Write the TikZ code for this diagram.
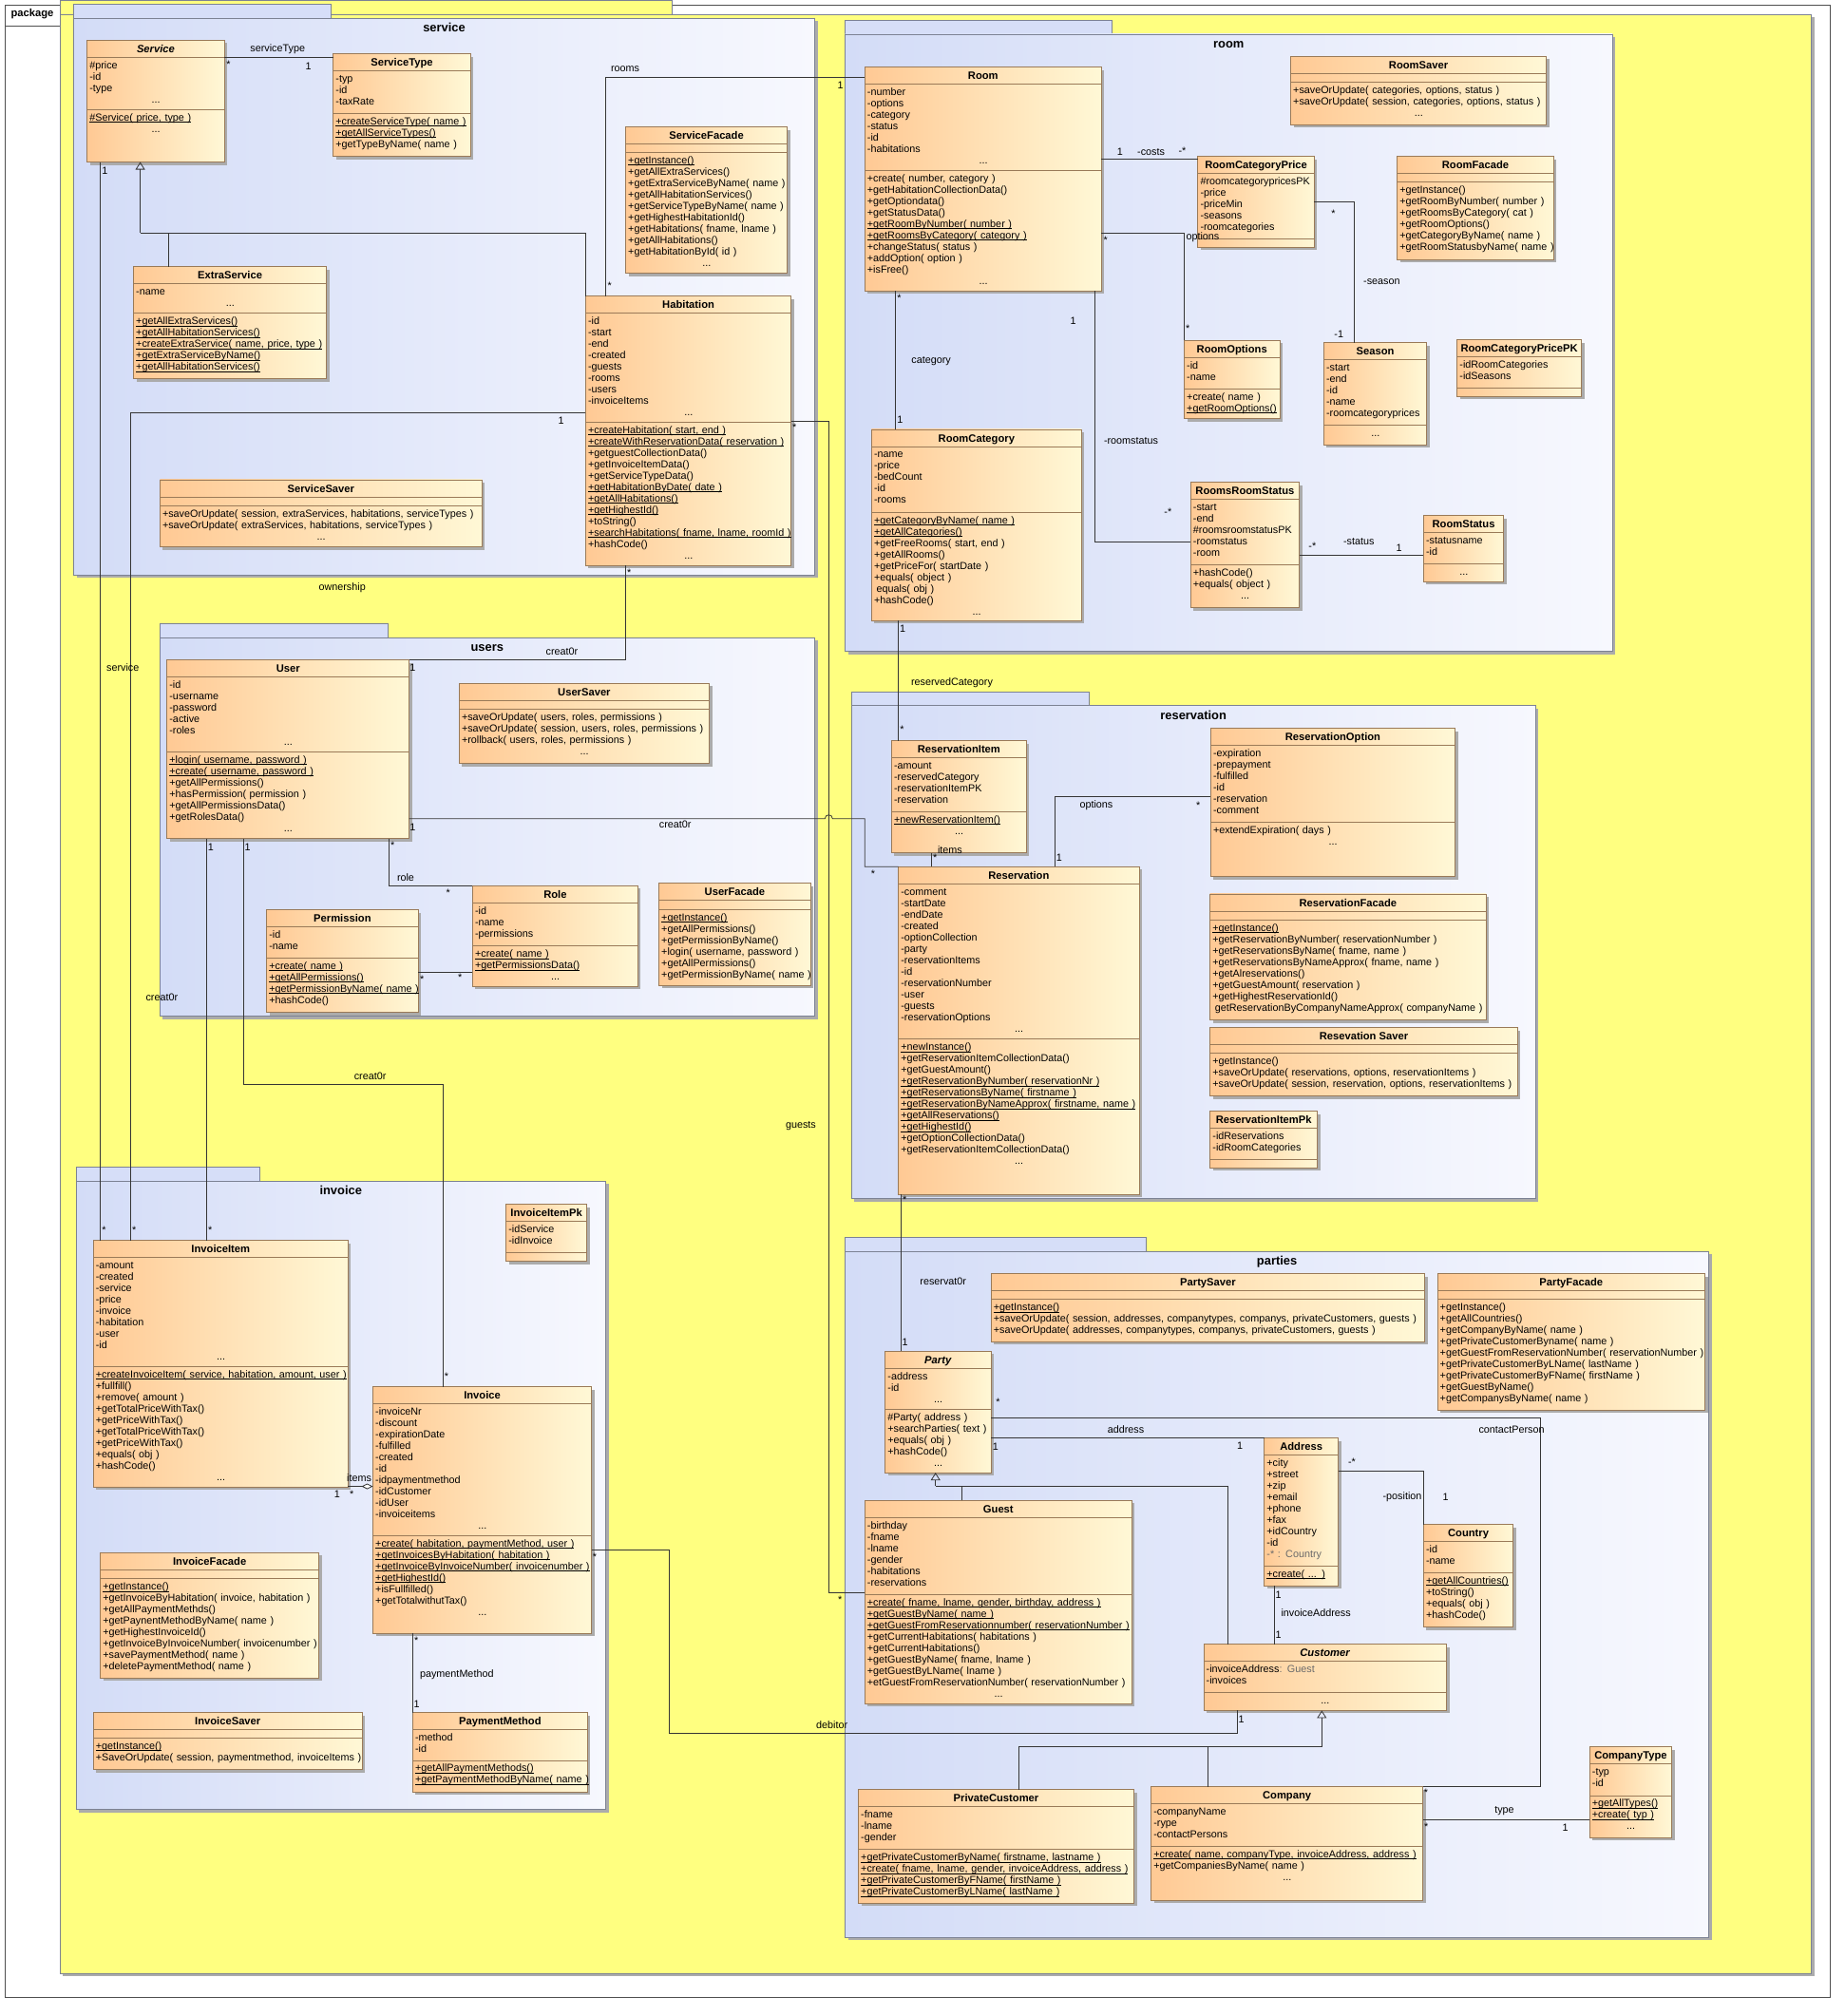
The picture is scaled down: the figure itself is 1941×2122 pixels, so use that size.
\documentclass[tikz,border=0pt]{standalone}
\usepackage{fontspec}
\setmainfont{Liberation Sans}
\usetikzlibrary{arrows.meta}

\definecolor{yel}{HTML}{FFFF80}
\definecolor{pkgL}{HTML}{D3DCF7}
\definecolor{pkgR}{HTML}{F7F8FE}
\definecolor{pkgTab}{HTML}{D6DEF8}
\definecolor{pkgLine}{HTML}{7C8294}
\definecolor{frameLine}{HTML}{505050}
\definecolor{clsL}{HTML}{FFC994}
\definecolor{clsR}{HTML}{FFF8D6}
\definecolor{clsLine}{HTML}{9A7A58}
\definecolor{shd}{HTML}{ABABAB}
\definecolor{wire}{HTML}{353535}
\definecolor{dim}{HTML}{6A6A6A}

\newcommand\cfont{\fontsize{10.8}{12}\selectfont}
\newcommand\hfont{\bfseries\fontsize{11.2}{12}\selectfont}
\newcommand\pfont{\bfseries\fontsize{12.9}{14}\selectfont}

% underlined (static) member
\newcommand\uln[1]{\leavevmode\setbox0=\hbox{#1}\rlap{\rule[-1.6pt]{\wd0}{0.6pt}}\box0}
% centred ellipsis row of a compartment
\newcommand\ellrow{\leavevmode\makebox[\clsw pt]{...}}

\tikzset{
  clsbox/.style={draw=clsLine, line width=0.7pt, left color=clsL, right color=clsR, inner sep=0, outer sep=0},
  pkgbox/.style={draw=pkgLine, line width=0.8pt, left color=pkgL, right color=pkgR, inner sep=0, outer sep=0},
  hdrtxt/.style={inner sep=0, font=\hfont, anchor=base},
  cmptxt/.style={inner sep=0, anchor=north west, align=left, text width=700pt, font=\cfont},
  lbl/.style={inner sep=0, font=\cfont},
  wireln/.style={draw=wire, line width=0.8pt},
  gen/.style={wireln, -{Triangle[open, width=10pt, length=8pt]}},
  agg/.style={wireln, -{Diamond[open, fill=white, width=6pt, length=12pt]}},
  pkgtitle/.style={inner sep=0, font=\pfont, anchor=base},
}

% class: id, x, y, width, height, attribute-compartment height, title, attributes, operations
\newcommand\umlclass[9]{%
  \pgfmathsetmacro\clsw{#4-5}%
  \pgfmathsetmacro\clscx{#2+#4/2}%
  \pgfmathsetmacro\clsya{#3+18}%
  \pgfmathsetmacro\clsyo{#3+18+#6}%
  \fill[shd] (#2+3,#3+3) rectangle ++(#4,#5);
  \node[clsbox, minimum width=#4pt, minimum height=#5pt, anchor=north west] (#1) at (#2,#3) {};
  \draw[clsLine, line width=0.7pt] (#2,\clsya) -- ++(#4,0) (#2,\clsyo) -- ++(#4,0);
  \node[hdrtxt] (#1-t) at (\clscx,#3+13.1) {#7};
  \node[cmptxt] (#1-a) at (#2+2.5,\clsya+3.3) {\strut #8};
  \node[cmptxt] (#1-o) at (#2+2.5,\clsyo+3.3) {\strut #9};
}

% package: id, x1, tab top, tab right, body top, x2, y2, title
\newcommand\umlpkg[8]{%
  \pgfmathsetmacro\pkw{#6-#2}%
  \pgfmathsetmacro\pkh{#7-#5}%
  \pgfmathsetmacro\pktw{#4-#2}%
  \pgfmathsetmacro\pkth{#5-#3}%
  \pgfmathsetmacro\pkcx{(#2+#6)/2}%
  \fill[shd] (#2+3,#5+3) rectangle (#6+3,#7+3);
  \node[draw=pkgLine, fill=pkgTab, line width=0.8pt, inner sep=0, outer sep=0, anchor=north west,
        minimum width=\pktw pt, minimum height=\pkth pt] (#1-tab) at (#2,#3) {};
  \node[pkgbox, minimum width=\pkw pt, minimum height=\pkh pt, anchor=north west] (#1) at (#2,#5) {};
  \node[pkgtitle] (#1-t) at (\pkcx,#5+14.5) {#8};
}

\begin{document}
\begin{tikzpicture}[x=1pt, y=-1pt]
\useasboundingbox (0,0) rectangle (1941,2122);
\fill[white] (0,0) rectangle (1941,2122);

% outer diagram frame
\node[draw=frameLine, line width=0.8pt, fill=white, inner sep=0, anchor=north west,
      minimum width=1921pt, minimum height=2097pt] (frame) at (5,5) {};
\node[draw=frameLine, line width=0.8pt, inner sep=0, anchor=north west,
      minimum width=58pt, minimum height=22pt] (frametab) at (5,5) {};
\node[inner sep=0, anchor=base, font=\bfseries\fontsize{11.2}{12}\selectfont] (frametxt) at (34,18) {package};

% enclosing package
\fill[shd] (66,18.5) rectangle (1909.6,2080);
\node[draw=pkgLine, fill=yel, line width=0.8pt, inner sep=0, outer sep=0, anchor=north west,
      minimum width=644pt, minimum height=15pt] (roottab) at (63,0.5) {};
\node[draw=pkgLine, fill=yel, line width=0.8pt, inner sep=0, outer sep=0, anchor=north west,
      minimum width=1843.6pt, minimum height=2061.5pt] (root) at (63,15.5) {};

% sub packages
\umlpkg{service}{77.5}{4.5}{348}{19.3}{857.6}{605}{service}
\umlpkg{room}{889.6}{21.7}{1170}{36}{1697}{685.7}{room}
\umlpkg{users}{168}{656.4}{408.7}{671}{857.6}{1069.6}{users}
\umlpkg{reservation}{896.3}{728.4}{1146.8}{742.8}{1616}{1261.5}{reservation}
\umlpkg{invoice}{80}{1228.4}{273.6}{1243}{637.5}{1904.5}{invoice}
\umlpkg{parties}{889.6}{1302.8}{1206.5}{1317.3}{1798.6}{2039}{parties}

% ---------------- classes ----------------
% service
\umlclass{Service}{91.6}{42.4}{144.7}{128.1}{55}{\textit{Service}}{\#price\\-id\\-type\\\ellrow}{\uln{\#Service( price, type )}\\\ellrow}
\umlclass{ServiceType}{350.7}{56.8}{144.6}{107.8}{44.7}{ServiceType}{-typ\\-id\\-taxRate}{\uln{+createServiceType( name )}\\\uln{+getAllServiceTypes()}\\+getTypeByName( name )}
\umlclass{ServiceFacade}{658.5}{133.6}{170.1}{154}{8.9}{ServiceFacade}{}{\uln{+getInstance()}\\+getAllExtraServices()\\+getExtraServiceByName( name )\\+getAllHabitationServices()\\+getServiceTypeByName( name )\\+getHighestHabitationId()\\+getHabitations( fname, lname )\\+getAllHabitations()\\+getHabitationById( id )\\\ellrow}
\umlclass{ExtraService}{140.5}{280.7}{203.1}{117.8}{30.9}{ExtraService}{-name\\\ellrow}{\uln{+getAllExtraServices()}\\\uln{+getAllHabitationServices()}\\\uln{+createExtraService( name, price, type )}\\\uln{+getExtraServiceByName()}\\\uln{+getAllHabitationServices()}}
\umlclass{Habitation}{616.4}{311.7}{216.4}{283.7}{114.6}{Habitation}{-id\\-start\\-end\\-created\\-guests\\-rooms\\-users\\-invoiceItems\\\ellrow}{\uln{+createHabitation( start, end )}\\\uln{+createWithReservationData( reservation )}\\+getguestCollectionData()\\+getInvoiceItemData()\\+getServiceTypeData()\\\uln{+getHabitationByDate( date )}\\\uln{+getAllHabitations()}\\\uln{+getHighestId()}\\+toString()\\\uln{+searchHabitations( fname, lname, roomId )}\\+hashCode()\\\ellrow}
\umlclass{ServiceSaver}{168.3}{504.9}{339.1}{70.9}{9.2}{ServiceSaver}{}{+saveOrUpdate( session, extraServices, habitations, serviceTypes )\\+saveOrUpdate( extraServices, habitations, serviceTypes )\\\ellrow}

% room
\umlclass{Room}{910.2}{70.6}{249.2}{235.6}{90.8}{Room}{-number\\-options\\-category\\-status\\-id\\-habitations\\\ellrow}{+create( number, category )\\+getHabitationCollectionData()\\+getOptiondata()\\+getStatusData()\\\uln{+getRoomByNumber( number )}\\\uln{+getRoomsByCategory( category )}\\+changeStatus( status )\\+addOption( option )\\+isFree()\\\ellrow}
\umlclass{RoomSaver}{1358.5}{59.2}{269.1}{72}{9.6}{RoomSaver}{}{+saveOrUpdate( categories, options, status )\\+saveOrUpdate( session, categories, options, status )\\\ellrow}
\umlclass{RoomCategoryPrice}{1260.8}{164.6}{122.6}{95.8}{68.8}{RoomCategoryPrice}{\#roomcategorypricesPK\\-price\\-priceMin\\-seasons\\-roomcategories}{}
\umlclass{RoomFacade}{1470.6}{164.6}{164.8}{108.5}{9.2}{RoomFacade}{}{+getInstance()\\+getRoomByNumber( number )\\+getRoomsByCategory( cat )\\+getRoomOptions()\\+getCategoryByName( name )\\+getRoomStatusbyName( name )}
\umlclass{RoomOptions}{1246.5}{358.2}{100.4}{82.6}{33}{RoomOptions}{-id\\-name}{+create( name )\\\uln{+getRoomOptions()}}
\umlclass{Season}{1393.4}{360.6}{108.4}{107.8}{68.8}{Season}{-start\\-end\\-id\\-name\\-roomcategoryprices}{\ellrow}
\umlclass{RoomCategoryPricePK}{1533.7}{357.8}{130.8}{59.6}{32.7}{RoomCategoryPricePK}{-idRoomCategories\\-idSeasons}{}
\umlclass{RoomCategory}{917.4}{451.9}{220.9}{201.1}{69.4}{RoomCategory}{-name\\-price\\-bedCount\\-id\\-rooms}{\uln{+getCategoryByName( name )}\\\uln{+getAllCategories()}\\+getFreeRooms( start, end )\\+getAllRooms()\\+getPriceFor( startDate )\\+equals( object )\\\hspace*{2.5pt}equals( obj )\\+hashCode()\\\ellrow}
\umlclass{RoomsRoomStatus}{1253.2}{507.6}{114.4}{131.9}{68.8}{RoomsRoomStatus}{-start\\-end\\\#roomsroomstatusPK\\-roomstatus\\-room}{+hashCode()\\+equals( object )\\\ellrow}
\umlclass{RoomStatus}{1498.4}{542.7}{84.3}{69.6}{32.7}{RoomStatus}{-statusname\\-id}{\ellrow}

% users
\umlclass{User}{175.7}{694.6}{255}{188.1}{78.8}{User}{-id\\-username\\-password\\-active\\-roles\\\ellrow}{\uln{+login( username, password )}\\\uln{+create( username, password )}\\+getAllPermissions()\\+hasPermission( permission )\\+getAllPermissionsData()\\+getRolesData()\\\ellrow}
\umlclass{UserSaver}{483.3}{719.4}{263.2}{84.4}{9.2}{UserSaver}{}{+saveOrUpdate( users, roles, permissions )\\+saveOrUpdate( session, users, roles, permissions )\\+rollback( users, roles, permissions )\\\ellrow}
\umlclass{Role}{497.4}{932.3}{174}{106}{45.3}{Role}{-id\\-name\\-permissions}{\uln{+create( name )}\\\uln{+getPermissionsData()}\\\ellrow}
\umlclass{Permission}{280.6}{957.7}{159.6}{107.9}{32.7}{Permission}{-id\\-name}{\uln{+create( name )}\\\uln{+getAllPermissions()}\\\uln{+getPermissionByName( name )}\\+hashCode()}
\umlclass{UserFacade}{693.5}{929.5}{159.9}{107.8}{9.6}{UserFacade}{}{\uln{+getInstance()}\\+getAllPermissions()\\+getPermissionByName()\\+login( username, password )\\+getAllPermissions()\\+getPermissionByName( name )}

% reservation
\umlclass{ReservationItem}{938.4}{779.7}{141.9}{118.1}{56.7}{ReservationItem}{-amount\\-reservedCategory\\-reservationItemPK\\-reservation}{\uln{+newReservationItem()}\\\ellrow}
\umlclass{ReservationOption}{1274.3}{766.6}{257.3}{156}{81.2}{ReservationOption}{-expiration\\-prepayment\\-fulfilled\\-id\\-reservation\\-comment}{+extendExpiration( days )\\\ellrow}
\umlclass{Reservation}{945.6}{912.3}{253.4}{344.7}{163.5}{Reservation}{-comment\\-startDate\\-endDate\\-created\\-optionCollection\\-party\\-reservationItems\\-id\\-reservationNumber\\-user\\-guests\\-reservationOptions\\\ellrow}{\uln{+newInstance()}\\+getReservationItemCollectionData()\\+getGuestAmount()\\\uln{+getReservationByNumber( reservationNr )}\\\uln{+getReservationsByName( firstname )}\\\uln{+getReservationByNameApprox( firstname, name )}\\\uln{+getAllReservations()}\\\uln{+getHighestId()}\\+getOptionCollectionData()\\+getReservationItemCollectionData()\\\ellrow}
\umlclass{ReservationFacade}{1273.7}{940.9}{290.3}{132.9}{9.5}{ReservationFacade}{}{\uln{+getInstance()}\\+getReservationByNumber( reservationNumber )\\+getReservationsByName( fname, name )\\+getReservationsByNameApprox( fname, name )\\+getAlreservations()\\+getGuestAmount( reservation )\\+getHighestReservationId()\\\hspace*{2.5pt}getReservationByCompanyNameApprox( companyName )}
\umlclass{ResevationSaver}{1273.7}{1081.7}{323.6}{72}{8.9}{Resevation Saver}{}{+getInstance()\\+saveOrUpdate( reservations, options, reservationItems )\\+saveOrUpdate( session, reservation, options, reservationItems )}
\umlclass{ReservationItemPk}{1273.7}{1169.5}{113}{59.9}{32.6}{ReservationItemPk}{-idReservations\\-idRoomCategories}{}

% invoice
\umlclass{InvoiceItemPk}{532.6}{1267.7}{85}{59.9}{32.3}{InvoiceItemPk}{-idService\\-idInvoice}{}
\umlclass{InvoiceItem}{98.2}{1305.6}{268.2}{259.6}{114.6}{InvoiceItem}{-amount\\-created\\-service\\-price\\-invoice\\-habitation\\-user\\-id\\\ellrow}{\uln{+createInvoiceItem( service, habitation, amount, user )}\\+fullfill()\\+remove( amount )\\+getTotalPriceWithTax()\\+getPriceWithTax()\\+getTotalPriceWithTax()\\+getPriceWithTax()\\+equals( obj )\\+hashCode()\\\ellrow}
\umlclass{Invoice}{392.5}{1459.5}{230.1}{259.8}{139}{Invoice}{-invoiceNr\\-discount\\-expirationDate\\-fulfilled\\-created\\-id\\-idpaymentmethod\\-idCustomer\\-idUser\\-invoiceitems\\\ellrow}{\uln{+create( habitation, paymentMethod, user )}\\\uln{+getInvoicesByHabitation( habitation )}\\\uln{+getInvoiceByInvoiceNumber( invoicenumber )}\\\uln{+getHighestId()}\\+isFullfilled()\\+getTotalwithutTax()\\\ellrow}
\umlclass{InvoiceFacade}{105.7}{1634.4}{230}{132}{9.2}{InvoiceFacade}{}{\uln{+getInstance()}\\+getInvoiceByHabitation( invoice, habitation )\\+getAllPaymentMethds()\\+getPaynentMethodByName( name )\\+getHighestInvoiceId()\\+getInvoiceByInvoiceNumber( invoicenumber )\\+savePaymentMethod( name )\\+deletePaymentMethod( name )}
\umlclass{InvoiceSaver}{98.2}{1802.7}{283.1}{59.8}{8.5}{InvoiceSaver}{}{\uln{+getInstance()}\\+SaveOrUpdate( session, paymentmethod, invoiceItems )}
\umlclass{PaymentMethod}{434.4}{1802.7}{184}{83.5}{32.3}{PaymentMethod}{-method\\-id}{\uln{+getAllPaymentMethods()}\\\uln{+getPaymentMethodByName( name )}}

% parties
\umlclass{PartySaver}{1043.2}{1340.7}{456.5}{71.6}{8.9}{PartySaver}{}{\uln{+getInstance()}\\+saveOrUpdate( session, addresses, companytypes, companys, privateCustomers, guests )\\+saveOrUpdate( addresses, companytypes, companys, privateCustomers, guests )}
\umlclass{PartyFacade}{1513}{1340.7}{281.5}{143.6}{8.9}{PartyFacade}{}{+getInstance()\\+getAllCountries()\\+getCompanyByName( name )\\+getPrivateCustomerByname( name )\\+getGuestFromReservationNumber( reservationNumber )\\+getPrivateCustomerByLName( lastName )\\+getPrivateCustomerByFName( firstName )\\+getGuestByName()\\+getCompanysByName( name )}
\umlclass{Party}{931.7}{1422.3}{111.5}{127.8}{43.3}{\textit{Party}}{-address\\-id\\\ellrow}{\#Party( address )\\+searchParties( text )\\+equals( obj )\\+hashCode()\\\ellrow}
\umlclass{Guest}{910.2}{1579.4}{281.2}{213.8}{80.8}{Guest}{-birthday\\-fname\\-lname\\-gender\\-habitations\\-reservations}{\uln{+create( fname, lname, gender, birthday, address )}\\\uln{+getGuestByName( name )}\\\uln{+getGuestFromReservationnumber( reservationNumber )}\\+getCurrentHabitations( habitations )\\+getCurrentHabitations()\\+getGuestByName( fname, lname )\\+getGuestByLName( lname )\\+etGuestFromReservationNumber( reservationNumber )\\\ellrow}
\umlclass{Address}{1330.7}{1513.6}{78}{155.8}{116.8}{Address}{+city\\+street\\+zip\\+email\\+phone\\+fax\\+idCountry\\-id\\\textcolor{dim}{-* : Country}}{\uln{+create( ... )}}
\umlclass{Country}{1498.4}{1604.6}{94.3}{107.9}{32.9}{Country}{-id\\-name}{\uln{+getAllCountries()}\\+toString()\\+equals( obj )\\+hashCode()}
\umlclass{Customer}{1267}{1730.8}{255.5}{69.6}{32.6}{\textit{Customer}}{-invoiceAddress\textcolor{dim}{ : Guest}\\-invoices}{\ellrow}
\umlclass{PrivateCustomer}{903.5}{1883.8}{290}{119.5}{44.8}{PrivateCustomer}{-fname\\-lname\\-gender}{\uln{+getPrivateCustomerByName( firstname, lastname )}\\\uln{+create( fname, lname, gender, invoiceAddress, address )}\\\uln{+getPrivateCustomerByFName( firstName )}\\\uln{+getPrivateCustomerByLName( lastName )}}
\umlclass{Company}{1211.6}{1880.8}{286}{119.4}{44.7}{Company}{-companyName\\-rype\\-contactPersons}{\uln{+create( name, companyType, invoiceAddress, address )}\\+getCompaniesByName( name )\\\ellrow}
\umlclass{CompanyType}{1673.2}{1838.7}{86.4}{95.7}{33.3}{CompanyType}{-typ\\-id}{\uln{+getAllTypes()}\\\uln{+create( typ )}\\\ellrow}

% ---------------- connectors ----------------
\draw[wireln] (Service.east |- 0,60.6) -- (ServiceType.west |- 0,60.6);
\draw[wireln] (ExtraService.north -| 177.4,0) -- (177.4,245.2);
\draw[wireln] (Habitation.north west) -- (616.4,245.2) -- (147.6,245.2);
\draw[gen] (147.6,245.2) -- (Service.south -| 147.6,0);
\draw[wireln] (Habitation.north -| 637.5,0) |- (Room.west |- 0,81.6);
\draw[wireln] (Service.south -| 105.7,0) -- (InvoiceItem.north -| 105.7,0);
\draw[wireln] (Habitation.west |- 0,434.6) -| (InvoiceItem.north -| 137.2,0);
\draw[wireln] (Habitation.south -| 658.5,0) |- (User.north east);
\draw[wireln] (Habitation.east |- 0,443.6) -| (872.3,1676.2) -- (Guest.west |- 0,1676.2);
\draw[wireln] (User.south -| 217,0) -- (InvoiceItem.north -| 217,0);
\draw[wireln] (User.south -| 256.6,0) |- (466.3,1141.3) -- (Invoice.north -| 466.3,0);
\draw[wireln] (User.east |- 0,861.7) -- (868.3,861.7) arc[start angle=180, end angle=360, radius=4] -- (910.2,861.7) |- (Reservation.north west);
\draw[wireln] (User.south -| 409.5,0) |- (Role.north west);
\draw[wireln] (Permission.east |- 0,1023.5) -- (Role.west |- 0,1023.5);
\draw[agg] (InvoiceItem.east |- 0,1564.5) -- (Invoice.west |- 0,1564.5);
\draw[wireln] (Invoice.south -| 434.4,0) -- (PaymentMethod.north -| 434.4,0);
\draw[wireln] (Invoice.east |- 0,1631) -| (704.4,1824.1) -| (Customer.south -| 1302.5,0);

\draw[wireln] (Room.east |- 0,167.7) -- (RoomCategoryPrice.west |- 0,167.7);
\draw[wireln] (Room.east |- 0,245.6) -| (RoomOptions.north west);
\draw[wireln] (RoomCategoryPrice.east |- 0,212.5) -| (Season.north -| 1425.4,0);
\draw[wireln] (Room.south -| 942.2,0) -- (RoomCategory.north -| 942.2,0);
\draw[wireln] (Room.south -| 1152.2,0) |- (RoomsRoomStatus.west |- 0,570.3);
\draw[wireln] (RoomsRoomStatus.east |- 0,584.4) -- (RoomStatus.west |- 0,584.4);
\draw[wireln] (RoomCategory.south -| 945.6,0) -- (ReservationItem.north -| 945.6,0);

\draw[wireln] (ReservationItem.south -| 980.5,0) -- (Reservation.north -| 980.5,0);
\draw[wireln] (Reservation.north -| 1110.6,0) |- (ReservationOption.west |- 0,838.2);
\draw[wireln] (Reservation.south -| 948.5,0) -- (Party.north -| 948.5,0);

\draw[wireln] (Party.east |- 0,1492.2) -| (1621.3,1880.8) -- (Company.north east);
\draw[wireln] (Party.east |- 0,1513.2) -- (Address.west |- 0,1513.2);
\draw[wireln] (Address.east |- 0,1548.4) -| (Country.north west);
\draw[wireln] (Address.south -| 1341.5,0) -- (Customer.north -| 1341.5,0);
\draw[wireln] (Customer.north -| 1292.3,0) |- (984.7,1564.2);
\draw[wireln] (Guest.north -| 1012.1,0) -- (1012.1,1564.2);
\draw[gen] (984.7,1564.2) -- (Party.south -| 984.7,0);
\draw[wireln] (PrivateCustomer.north -| 1072.3,0) |- (1391.3,1838.5);
\draw[wireln] (Company.north -| 1271.3,0) -- (1271.3,1838.5);
\draw[gen] (1391.3,1838.5) -- (Customer.south -| 1391.3,0);
\draw[wireln] (Company.east |- 0,1915.7) -- (CompanyType.west |- 0,1915.7);

% ---------------- role names and multiplicities ----------------
\node[lbl] (lb1) at (292.2,51.3) {serviceType};
\node[lbl] (lb2) at (240.4,67.5) {*};
\node[lbl] (lb3) at (324.6,69.9) {1};
\node[lbl] (lb4) at (658.1,72.3) {rooms};
\node[lbl] (lb5) at (641.6,300.7) {*};
\node[lbl] (lb6) at (884.5,90.2) {1};
\node[lbl] (lb7) at (110.3,179.4) {1};
\node[lbl] (lb8) at (590.7,443.2) {1};
\node[lbl] (lb9) at (836.1,449.5) {*};
\node[lbl] (lb10) at (662.3,602.3) {*};
\node[lbl] (lb11) at (360.2,618.5) {ownership};
\node[lbl] (lb12) at (591.5,685.3) {creat0r};
\node[lbl] (lb13) at (434.4,703.2) {1};
\node[lbl] (lb14) at (129.3,702.2) {service};
\node[lbl] (lb15) at (434.4,870.3) {1};
\node[lbl] (lb16) at (710.7,867.5) {creat0r};
\node[lbl] (lb17) at (919,920.2) {*};
\node[lbl] (lb18) at (221.8,891.6) {1};
\node[lbl] (lb19) at (260.7,891.6) {1};
\node[lbl] (lb20) at (413.3,889.9) {*};
\node[lbl] (lb21) at (427,923.3) {role};
\node[lbl] (lb22) at (471.7,939.8) {*};
\node[lbl] (lb23) at (444.3,1031.1) {*};
\node[lbl] (lb24) at (484.1,1028.7) {*};
\node[lbl] (lb25) at (170.4,1049.4) {creat0r};
\node[lbl] (lb26) at (389.6,1132.3) {creat0r};
\node[lbl] (lb27) at (109.4,1295.2) {*};
\node[lbl] (lb28) at (141.3,1295.2) {*};
\node[lbl] (lb29) at (221.3,1295.2) {*};
\node[lbl] (lb30) at (470,1449.2) {*};
\node[lbl] (lb31) at (378,1556) {items};
\node[lbl] (lb32) at (354.8,1573.2) {1};
\node[lbl] (lb33) at (370.2,1572.5) {*};
\node[lbl] (lb34) at (438.1,1726.7) {*};
\node[lbl] (lb35) at (480.8,1762.4) {paymentMethod};
\node[lbl] (lb36) at (438.5,1793.6) {1};
\node[lbl] (lb37) at (625.9,1638.5) {*};
\node[lbl] (lb38) at (875.7,1815.3) {debitor};
\node[lbl] (lb39) at (1306.6,1809.9) {1};
\node[lbl] (lb40) at (842.9,1185.4) {guests};
\node[lbl] (lb41) at (884.1,1683.3) {*};
\node[lbl] (lb42) at (1178.8,160.2) {1};
\node[lbl] (lb43) at (1211.6,160.2) {-costs};
\node[lbl] (lb44) at (1244.4,158.4) {-*};
\node[lbl] (lb45) at (1163.6,252.4) {*};
\node[lbl] (lb46) at (1265.9,249.4) {options};
\node[lbl] (lb47) at (1250.3,346.1) {*};
\node[lbl] (lb48) at (1403.4,224.5) {*};
\node[lbl] (lb49) at (1454.4,296.5) {-season};
\node[lbl] (lb50) at (1409.2,351.3) {-1};
\node[lbl] (lb51) at (946.4,313.4) {*};
\node[lbl] (lb52) at (980.1,380.6) {category};
\node[lbl] (lb53) at (947.3,441.9) {1};
\node[lbl] (lb54) at (1129.5,337.5) {1};
\node[lbl] (lb55) at (1190.5,464.3) {-roomstatus};
\node[lbl] (lb56) at (1229.3,538.6) {-*};
\node[lbl] (lb57) at (1381.3,574.8) {-*};
\node[lbl] (lb58) at (1430.3,569.6) {-status};
\node[lbl] (lb59) at (1472.7,576.5) {1};
\node[lbl] (lb60) at (950.2,661.9) {1};
\node[lbl] (lb61) at (1002,718.7) {reservedCategory};
\node[lbl] (lb62) at (949.4,767.6) {*};
\node[lbl] (lb63) at (999.9,895) {items};
\node[lbl] (lb64) at (984.3,903) {*};
\node[lbl] (lb65) at (1114.8,903) {1};
\node[lbl] (lb66) at (1153.9,847.6) {options};
\node[lbl] (lb67) at (1261.2,847.6) {*};
\node[lbl] (lb68) at (952.3,1263.2) {*};
\node[lbl] (lb69) at (992.7,1348.6) {reservat0r};
\node[lbl] (lb70) at (952.7,1413) {1};
\node[lbl] (lb71) at (1050.4,1475.7) {*};
\node[lbl] (lb72) at (1185,1504.3) {address};
\node[lbl] (lb73) at (1047.9,1522.5) {1};
\node[lbl] (lb74) at (1305,1522.2) {1};
\node[lbl] (lb75) at (1591,1505.3) {contactPerson};
\node[lbl] (lb76) at (1501,1887.2) {*};
\node[lbl] (lb77) at (1422.9,1538.7) {-*};
\node[lbl] (lb78) at (1476,1575.6) {-position};
\node[lbl] (lb79) at (1521.7,1575.6) {1};
\node[lbl] (lb80) at (1583.5,1906.2) {type};
\node[lbl] (lb81) at (1501.3,1922.5) {*};
\node[lbl] (lb82) at (1647.5,1924.2) {1};
\node[lbl] (lb83) at (1345.6,1678.9) {1};
\node[lbl] (lb84) at (1385.1,1697.2) {invoiceAddress};
\node[lbl] (lb85) at (1345.6,1721) {1};
\end{tikzpicture}
\end{document}
